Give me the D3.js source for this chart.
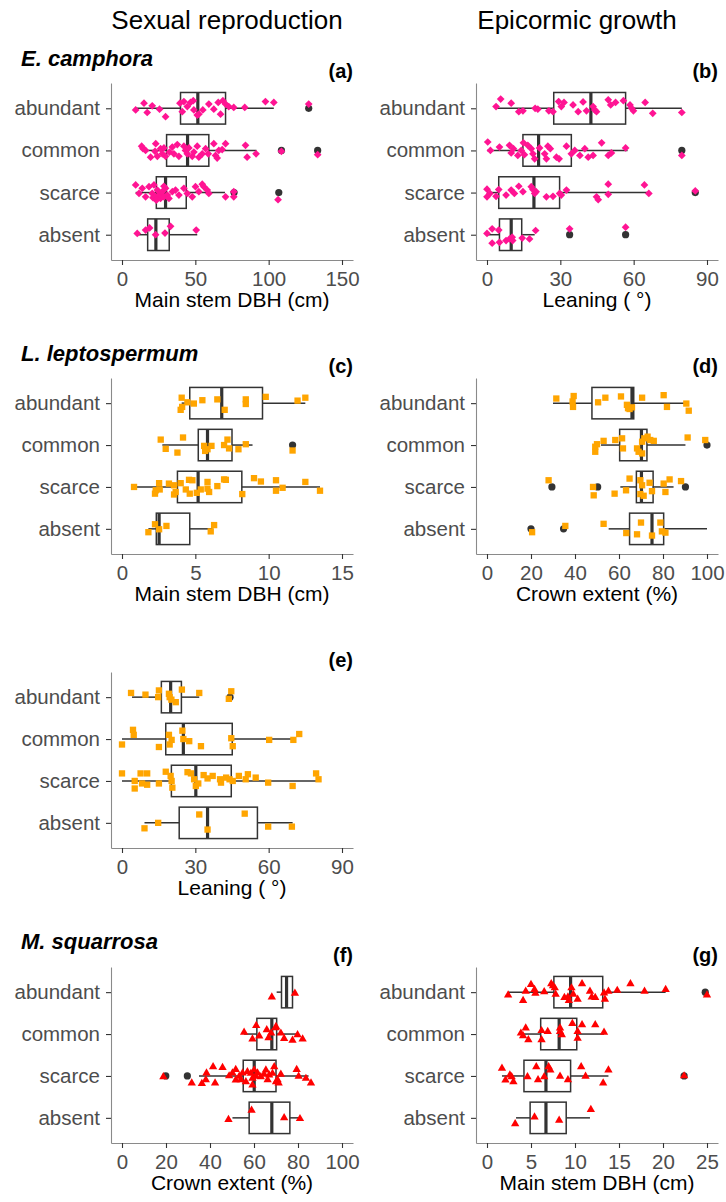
<!DOCTYPE html>
<html>
<head>
<meta charset="utf-8">
<script src="https://cdn.jsdelivr.net/npm/d3@7"></script>
<style>
  body { margin: 0; background: #fff; }
  svg { font-family: "Liberation Sans", Arial, sans-serif; }
</style>
</head>
<body>
<div id="chartArea"></div>
<script>
// categories (top to bottom)
var cats = ["abundant", "common", "scarce", "absent"];

// box stats per category: [lower whisker, q1, median, q3, upper whisker]
var aStats = [[8.8, 39.9, 51.7, 70.6, 103.5], [14.3, 30.4, 44.7, 59.2, 91.7], [9.3, 23.4, 29.7, 43.8, 70.2], [9.8, 17.5, 23.1, 32.2, 51.3]];
var bStats = [[3.7, 27.3, 42.5, 56.7, 79.7], [0, 14.7, 21.1, 34.5, 57.5], [0, 4.8, 19.2, 29.7, 66.2], [0, 5.1, 9.9, 14.2, 19.5]];
var cStats = [[4.07, 4.62, 6.8, 9.58, 12.5], [2.75, 5.2, 5.83, 7.5, 8.9], [0.82, 3.78, 5.19, 8.17, 13.5], [1.8, 2.34, 2.53, 4.62, 6.17]];
var dStats = [[30, 47.7, 65.9, 66.7, 90.2], [51.8, 60.3, 70.2, 72.7, 90.2], [60.6, 67.9, 70.2, 75.5, 84.8], [55.3, 64.8, 75, 80.3, 100]];
var eStats = [[4.1, 16.1, 19.9, 24.3, 31.6], [0, 17.9, 25.1, 45.1, 69.4], [0, 20.2, 30.2, 44.7, 80.4], [9.2, 23.4, 35, 55.4, 69.8]];
var fStats = [[70.3, 72.5, 74.8, 77.5, 78.6], [55.5, 61.3, 68.1, 70.3, 79.5], [35, 55.1, 60.1, 70, 84.8], [50.2, 57.8, 68.1, 76.3, 81.3]];
var gStats = [[2.4, 7.6, 9.5, 13.15, 20.3], [3.85, 6.1, 8.2, 10.2, 13.3], [1.7, 4.2, 6.7, 9.5, 13.8], [3.3, 4.9, 6.7, 9.0, 11.7]];

// outliers: [category index, value]
var aOut = [[0, 127.3], [1, 108.7], [1, 133.4], [2, 76.4], [2, 106.9]];
var bOut = [[1, 79.7], [2, 85.2], [3, 33.8], [3, 56.7]];
var cOut = [[1, 11.63]];
var dOut = [[1, 100], [2, 29.5], [2, 50.3], [2, 90.2], [3, 20], [3, 34.8]];
var eOut = [[0, 44.2]];
var fOut = [[2, 19.9], [2, 29.7]];
var gOut = [[0, 24.8], [2, 22.4]];

// jittered observations per category: [value, vertical jitter in category units]
var aPts = [
  [[9.3,.04],[15,-.12],[17.2,.1],[20.6,-.06],[25.6,.02],[29.7,.2],[39.5,-.12],[41.1,.08],[42.2,-.16],[44.5,-.04],[46.7,-.14],[48.6,-.18],[49,.04],[51.3,.16],[52.4,.14],[55.1,.04],[59.2,-.1],[62.6,.02],[65.6,-.14],[68.8,-.18],[70.6,-.1],[72.8,-.04],[67.2,.14],[76.2,-.02],[83.7,-.02],[97.8,-.16],[103.5,-.14],[127.3,-.1]],
  [[13.4,-.1],[14.3,-.04],[16.1,0],[19.5,.16],[22.5,.02],[23,-.16],[24.1,.14],[26.3,-.04],[27.5,.08],[28.6,-.06],[29.7,.14],[32.4,.04],[34.3,-.08],[35.4,.08],[37.7,-.14],[38.8,.14],[42.2,-.1],[43.3,0],[44.5,.08],[45.6,-.06],[47.9,.14],[49,.04],[51.3,-.1],[52.4,.16],[54.7,.08],[57,-.04],[58.8,.08],[62.6,-.16],[63.8,.12],[64.9,.18],[66,0],[68.3,-.02],[70.6,-.16],[84.2,-.12],[85.3,.16],[91.4,.08],[108.7,.02],[133.4,.1]],
  [[9.3,-.18],[11.6,.02],[13.8,-.1],[16.1,.1],[18.4,-.14],[20.6,.02],[21.1,.12],[21.8,-.18],[22.9,.1],[23.4,.18],[24.1,-.06],[25.2,.06],[26.3,.14],[27,.09],[27.5,-.02],[28.6,.1],[28.6,-.15],[29.7,-.1],[30.9,.06],[32,.14],[34.3,-.02],[36.5,-.06],[38.8,.06],[42.2,-.1],[44.5,.02],[47.9,.1],[50.1,-.14],[52.4,-.02],[54.7,-.2],[55.8,-.14],[58.1,-.06],[59.2,.02],[70.6,.1],[76.2,-.02],[76.2,.1],[106.4,.17]],
  [[10.4,-.03],[16.1,-.11],[18.8,-.16],[22.9,0],[29.3,-.04],[33.1,-.2],[50.6,-.11]]
];
var bPts = [
  [[3.7,-.04],[5.6,-.22],[9.9,-.12],[13,.08],[14.7,.06],[19.7,0],[20.8,.02],[25.3,.06],[27,.08],[29.3,-.16],[30.4,-.04],[31.5,-.14],[35.2,-.08],[37.3,.08],[39.3,-.15],[40.7,.06],[43.4,-.04],[44.1,.04],[44.8,.08],[49.6,-.2],[50.6,-.08],[52.6,-.14],[55.8,-.18],[58.5,-.08],[59.2,0],[59.9,.06],[64.7,-.14],[67.8,.12],[79.7,.1]],
  [[.3,-.2],[1.4,0],[5.1,-.08],[9.2,-.12],[9.9,.06],[10.8,-.04],[12.6,.12],[14,0],[14.9,-.18],[15.3,.1],[16.7,-.12],[18.1,-.04],[18.8,.08],[19.5,.2],[21.5,-.06],[23.6,.08],[24.3,.2],[24.9,-.1],[25.9,-.04],[28.4,.16],[29.5,.2],[32.5,-.1],[34.5,.08],[35.9,0],[38,.12],[40,-.04],[41.4,.16],[43.4,.12],[46.9,-.18],[49.6,.12],[50.9,.06],[56.7,-.06],[79.7,.12]],
  [[0,.1],[0,-.08],[1.2,.02],[3.7,.09],[4.8,-.07],[7.8,.06],[9.9,-.06],[11.2,.02],[13,-.15],[14.7,-.02],[18.1,-.14],[18.8,-.07],[19.5,.02],[20.1,-.02],[24.3,.1],[27,.09],[29.7,.02],[30.4,.06],[32.5,-.06],[44.8,.1],[45.5,.17],[49.6,-.2],[49.6,.04],[64.4,-.18],[66.2,.02],[85.2,-.04]],
  [[0,-.03],[2.1,-.14],[2.1,.2],[4.8,-.11],[5.1,.18],[7.8,.14],[9.2,.1],[10.3,.06],[10.5,.14],[14.4,.08],[17.4,.1],[19.9,-.1],[33.8,-.14],[56.7,-.18]]
];
var cPts = [
  [[4.07,-.13],[4.1,.09],[4,.16],[4.46,-.02],[4.9,.01],[5.48,-.07],[6.5,-.09],[7,.16],[8.44,-.09],[8.44,.02],[9.8,-.15],[11.97,-.06],[12.5,-.13]],
  [[2.64,-.13],[2.98,.09],[3.78,.18],[4.16,-.18],[5.6,.02],[5.67,.14],[5.83,.1],[6.1,.02],[6.96,0],[7.19,-.13],[7.3,.08],[7.94,.1],[8.44,-.02],[11.63,.13]],
  [[.82,0],[2.25,.16],[2.3,.08],[2.53,-.09],[2.57,.06],[3.2,-.08],[3.55,-.04],[3.55,.18],[3.66,.12],[4,-.09],[4.35,.06],[4.57,-.17],[4.62,.16],[4.8,-.16],[5.1,.14],[5.37,.06],[5.83,-.12],[5.83,.04],[5.94,.12],[6.5,-.02],[6.96,-.18],[7.08,-.17],[8.2,.17],[9,-.21],[9.47,-.13],[10.5,-.16],[10.5,.09],[10.95,.02],[12.5,-.12],[13.5,.09]],
  [[1.8,.08],[2.25,-.11],[2.53,.01],[3.03,-.07],[6.28,-.09],[6.05,.06]]
];
var dPts = [
  [[31.5,-.11],[39.4,-.17],[38.9,-.04],[39.1,.09],[50.5,-.02],[53.8,-.13],[60.9,-.16],[63.6,.04],[64.1,.12],[64.8,.14],[65.9,.1],[70.5,-.13],[80.3,-.19],[81.8,.09],[90.6,.01],[91.7,.18]],
  [[49.2,.04],[50,-.02],[49.2,.16],[53,-.1],[58.3,-.12],[61.4,-.16],[61.8,.08],[68.2,.08],[68.9,.16],[70.5,-.08],[71.5,-.16],[73,-.2],[74.2,-.12],[75.8,-.1],[70.5,.2],[91.2,-.18],[99.2,-.12]],
  [[28,-.16],[48.2,0],[48.5,.2],[58,.16],[63.2,.08],[64.8,-.2],[69.7,-.16],[70.5,-.04],[69.7,.17],[71.2,.21],[73.9,-.1],[75,.1],[80.3,-.08],[81.1,.12],[83,-.18],[88.2,-.14]],
  [[20.5,.08],[35.6,-.07],[53,-.12],[63.3,.1],[68.2,.13],[70,-.15],[75,.16],[78.8,-.15],[79.5,.06],[81.1,.09]]
];
var ePts = [
  [[3.7,-.1],[9.6,-.06],[14.8,0],[15.1,-.16],[19.2,-.08],[19.5,0],[20.2,.06],[22,.12],[24.5,-.18],[31.6,-.1],[43.7,.04],[44.7,-.14]],
  [[0,.13],[4.5,-.22],[4.8,-.1],[15.1,.19],[19.2,-.1],[19.5,.13],[20.3,.02],[24.7,-.2],[25.1,0],[27.5,.05],[32.3,.17],[44.7,-.02],[45.3,.17],[60.2,.02],[70.1,.02],[72.5,-.12]],
  [[0,-.18],[5.2,0],[5.2,.18],[7.6,-.18],[8.2,.06],[10.3,-.18],[10.3,.09],[15.1,.06],[17.9,-.22],[19.9,-.12],[20.3,0],[20.6,.16],[26.8,-.21],[28.2,-.18],[29.5,-.04],[30.2,.12],[31.2,.06],[33.4,-.14],[35,-.06],[37.1,-.12],[40.1,-.04],[40.5,.04],[42.6,-.08],[44,-.04],[45.3,0],[47.8,-.12],[50.6,-.04],[51.5,-.16],[54.7,-.08],[59.8,.04],[69.8,.12],[79.4,-.18],[80.4,-.04]],
  [[9.2,.13],[14.8,0],[31.6,-.2],[35,.16],[50.2,-.22],[59.8,.09],[69.5,.09]]
];
var fPts = [
  [[68.1,.12],[78.6,.03]],
  [[55.5,-.04],[61,-.2],[62.4,.05],[59.3,.12],[65.8,-.1],[66.6,.09],[67.8,-.02],[69.9,-.15],[70,-.18],[72.2,-.02],[73.7,.11],[77.5,.15],[79.8,.02],[82.1,.12]],
  [[18.8,.02],[31.7,.17],[36.3,.18],[38.1,.09],[38.4,-.07],[41.4,-.22],[42.3,.17],[45.7,-.2],[48.7,0],[50.2,-.07],[51.7,-.15],[51.7,.1],[53.3,.01],[54,.09],[54.8,-.07],[56.3,.14],[57,-.1],[58.6,-.06],[59.3,.06],[59.3,.22],[60.1,-.14],[60.8,.01],[61.6,-.07],[63.1,.02],[64.6,-.04],[65.4,-.14],[66.2,.09],[66.9,-.02],[68.4,-.06],[69.2,-.22],[70,.14],[70.7,.09],[71.2,.17],[72.2,-.04],[79.4,-.15],[80.3,.01],[83.6,.06],[85.9,.17]],
  [[48.4,.04],[58.9,-.18],[73.7,0],[80.9,.02]]
];
var gPts = [
  [[2.4,.07],[4.1,.2],[4.4,-.02],[5,-.18],[5.4,-.06],[5.5,.03],[6.5,-.01],[7.3,-.2],[7.5,-.15],[7.7,-.1],[7.8,.05],[8.8,.13],[9.2,.12],[9.3,.2],[9.6,-.1],[9.8,.05],[10.3,.17],[10.8,-.2],[11.7,-.02],[11.9,.12],[12.3,.13],[13.3,.02],[13.4,.17],[13.8,-.02],[14.8,-.04],[16.3,-.2],[17.9,-.02],[20.3,-.06],[25,.07]],
  [[3.85,-.02],[4.1,.04],[4.4,-.14],[4.7,.14],[6.2,.14],[6.2,-.08],[6.9,-.06],[8.3,-.14],[8.3,-.06],[8.5,.02],[9.7,-.25],[10.3,-.06],[10.3,.1],[10.8,-.22],[12.3,-.22],[13.3,-.04]],
  [[1.7,-.18],[2.1,.1],[2.6,-.02],[2.8,.02],[3,.14],[4.6,.02],[5.6,-.22],[5.8,.09],[6.5,.02],[7,-.22],[7.2,-.14],[8.3,.01],[9.2,.09],[10.7,-.22],[11.2,.01],[13.2,.17],[13.8,-.14],[22.4,0]],
  [[3.2,.14],[5.4,-.02],[8.2,.06],[11.8,-.2]]
];

// x axis limits and tick labels
var aTicks = [0, 50, 100, 150];
var bTicks = [0, 30, 60, 90];
var cTicks = [0, 5, 10, 15];
var dTicks = [0, 20, 40, 60, 80, 100];
var eTicks = [0, 30, 60, 90];
var fTicks = [0, 20, 40, 60, 80, 100];
var gTicks = [0, 5, 10, 15, 20, 25];

var pink = "#FF1493", orange = "#FFA500", red = "#FF0000";

// panel layout
var panels = [
  {id: "(a)", stats: aStats, out: aOut, pts: aPts, ticks: aTicks, x0: 111, x1: 353, y0: 83, y1: 260, color: pink, shape: "diamond", title: "Main stem DBH (cm)"},
  {id: "(b)", stats: bStats, out: bOut, pts: bPts, ticks: bTicks, x0: 476, x1: 718, y0: 83, y1: 260, color: pink, shape: "diamond", title: "Leaning ( °)"},
  {id: "(c)", stats: cStats, out: cOut, pts: cPts, ticks: cTicks, x0: 111, x1: 353, y0: 378, y1: 554, color: orange, shape: "square", title: "Main stem DBH (cm)"},
  {id: "(d)", stats: dStats, out: dOut, pts: dPts, ticks: dTicks, x0: 476, x1: 718, y0: 378, y1: 554, color: orange, shape: "square", title: "Crown extent (%)"},
  {id: "(e)", stats: eStats, out: eOut, pts: ePts, ticks: eTicks, x0: 111, x1: 353, y0: 672, y1: 848, color: orange, shape: "square", title: "Leaning ( °)"},
  {id: "(f)", stats: fStats, out: fOut, pts: fPts, ticks: fTicks, x0: 111, x1: 353, y0: 967, y1: 1143, color: red, shape: "triangle", title: "Crown extent (%)"},
  {id: "(g)", stats: gStats, out: gOut, pts: gPts, ticks: gTicks, x0: 476, x1: 718, y0: 967, y1: 1143, color: red, shape: "triangle", title: "Main stem DBH (cm)"}
];

var svg = d3.select("#chartArea").append("svg")
  .attr("width", 726)
  .attr("height", 1202);

// column headers
svg.append("text").attr("x", 227).attr("y", 29).attr("text-anchor", "middle")
  .style("font-size", "26px").text("Sexual reproduction");
svg.append("text").attr("x", 577).attr("y", 29).attr("text-anchor", "middle")
  .style("font-size", "26px").text("Epicormic growth");

// species titles
[["E. camphora", 66], ["L. leptospermum", 361], ["M. squarrosa", 949]].forEach(function(s) {
  svg.append("text").attr("x", 21).attr("y", s[1])
    .style("font-size", "22px").style("font-weight", "bold").style("font-style", "italic")
    .text(s[0]);
});

var symbols = {
  diamond: d3.symbol().type(d3.symbolSquare).size(30),
  square: d3.symbol().type(d3.symbolSquare).size(40),
  triangle: d3.symbol().type(d3.symbolTriangle).size(30)
};

panels.forEach(function(p) {
  var lo = p.ticks[0], hi = p.ticks[p.ticks.length - 1], pad = (hi - lo) * 0.05;
  var x = d3.scaleLinear().domain([lo - pad, hi + pad]).range([p.x0, p.x1]);
  var y = d3.scalePoint().domain(cats).range([p.y0, p.y1]).padding(0.6);
  var step = y.step();
  var bh = step * 0.75 / 2;

  var g = svg.append("g");

  // axes
  var xa = g.append("g")
    .attr("transform", "translate(0," + p.y1 + ")")
    .call(d3.axisBottom(x).tickValues(p.ticks).tickSize(5).tickSizeOuter(0).tickPadding(6));
  var ya = g.append("g")
    .attr("transform", "translate(" + p.x0 + ",0)")
    .call(d3.axisLeft(y).tickSize(5).tickSizeOuter(0).tickPadding(6));
  [xa, ya].forEach(function(a) {
    a.select(".domain").attr("stroke", "#8a8a8a").attr("stroke-width", 1.1);
    a.selectAll(".tick line").attr("stroke", "#333").attr("stroke-width", 1.1);
    a.selectAll(".tick text").attr("fill", "#4D4D4D").style("font-size", "20.5px").style("font-family", "Liberation Sans, Arial, sans-serif");
  });

  // axis title
  g.append("text").attr("x", (p.x0 + p.x1) / 2).attr("y", p.y1 + 47)
    .attr("text-anchor", "middle").style("font-size", "21px").text(p.title);

  // panel label
  g.append("text").attr("x", p.x1).attr("y", p.y0 - 5)
    .attr("text-anchor", "end").style("font-size", "20px").style("font-weight", "bold").text(p.id);

  // boxes
  var boxes = g.selectAll(".box").data(p.stats).enter().append("g").attr("class", "box");
  boxes.append("line")
    .attr("x1", function(d) { return x(d[0]); }).attr("x2", function(d) { return x(d[1]); })
    .attr("y1", function(d, i) { return y(cats[i]); }).attr("y2", function(d, i) { return y(cats[i]); })
    .attr("stroke", "#333").attr("stroke-width", 1.5);
  boxes.append("line")
    .attr("x1", function(d) { return x(d[3]); }).attr("x2", function(d) { return x(d[4]); })
    .attr("y1", function(d, i) { return y(cats[i]); }).attr("y2", function(d, i) { return y(cats[i]); })
    .attr("stroke", "#333").attr("stroke-width", 1.5);
  boxes.append("rect")
    .attr("x", function(d) { return x(d[1]); })
    .attr("width", function(d) { return x(d[3]) - x(d[1]); })
    .attr("y", function(d, i) { return y(cats[i]) - bh; })
    .attr("height", bh * 2)
    .attr("fill", "#fff").attr("stroke", "#333").attr("stroke-width", 1.5);
  boxes.append("line")
    .attr("x1", function(d) { return x(d[2]); }).attr("x2", function(d) { return x(d[2]); })
    .attr("y1", function(d, i) { return y(cats[i]) - bh; }).attr("y2", function(d, i) { return y(cats[i]) + bh; })
    .attr("stroke", "#333").attr("stroke-width", 3.2);

  // outliers
  g.selectAll(".out").data(p.out).enter().append("circle")
    .attr("cx", function(d) { return x(d[1]); })
    .attr("cy", function(d) { return y(cats[d[0]]); })
    .attr("r", 3.6).attr("fill", "#333");

  // jittered points
  p.pts.forEach(function(grp, i) {
    g.selectAll(".pt" + i).data(grp).enter().append("path")
      .attr("d", symbols[p.shape])
      .attr("transform", function(d) {
        var t = "translate(" + x(d[0]) + "," + (y(cats[i]) + d[1] * step) + ")";
        return p.shape === "diamond" ? t + " rotate(45)" : t;
      })
      .attr("fill", p.color);
  });
});
</script>
</body>
</html>
